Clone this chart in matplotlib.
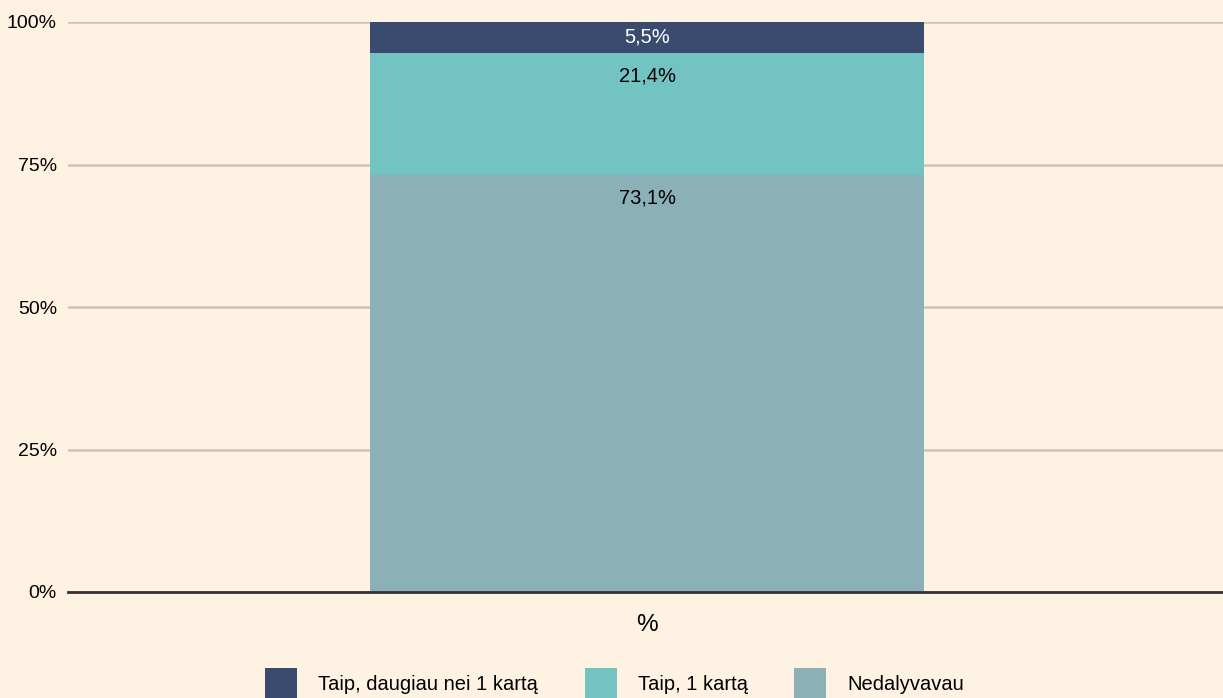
import matplotlib
matplotlib.use("Agg")
import matplotlib.pyplot as plt
from matplotlib.patches import Patch

plt.rcParams['font.family'] = ['Liberation Sans', 'DejaVu Sans']

categories = ['%']
series_names = ['Nedalyvavau', 'Taip, 1 kartą', 'Taip, daugiau nei 1 kartą']
series_values = [[73.1], [21.4], [5.5]]
series_colors = ['#8cb0b8', '#74c3c3', '#3b4b6f']
label_colors = ['black', 'black', 'white']
yticks = [0, 25, 50, 75, 100]
ytick_labels = ['0%', '25%', '50%', '75%', '100%']

bg = '#fef2e3'
fig = plt.figure(figsize=(12.23, 6.98), dpi=100, facecolor=bg)
ax = fig.add_axes([68/1223, 1-592/698, 1-68/1223, (592-22)/698])
ax.set_facecolor(bg)

x = list(range(len(categories)))
bottom = [0.0]*len(categories)
bars_all = []
for name, vals, col in zip(series_names, series_values, series_colors):
    bars = ax.bar(x, vals, width=0.48, bottom=bottom, color=col, label=name, zorder=3)
    bars_all.append(bars)
    bottom = [b+v for b, v in zip(bottom, vals)]

# labels
for i, (bars, vals, lc) in enumerate(zip(bars_all, series_values, label_colors)):
    for rect, v in zip(bars, vals):
        txt = f"{v:.1f}".replace('.', ',') + '%'
        cx = rect.get_x() + rect.get_width()/2
        top = rect.get_y() + rect.get_height()
        if i == len(bars_all)-1:
            ax.annotate(txt, (cx, rect.get_y() + rect.get_height()/2), xytext=(0, 0.5),
                        textcoords='offset points', ha='center', va='center',
                        color=lc, fontsize=14.5, zorder=4)
        else:
            ax.annotate(txt, (cx, top), xytext=(0, -16.5), textcoords='offset points',
                        ha='center', va='center', color=lc, fontsize=14.5, zorder=4)

ax.set_xlim(-0.5015, 0.4985)
ax.set_ylim(0, 100)
ax.set_yticks(yticks)
ax.set_yticklabels(ytick_labels, fontsize=14)
ax.set_xticks(x)
ax.set_xticklabels(categories, fontsize=17.5)
ax.tick_params(axis='y', length=0, pad=8)
ax.tick_params(axis='x', length=0, pad=16)
ax.grid(axis='y', color='#cfc4b4', linewidth=1.8, zorder=0)
for s in ['top', 'right', 'left']:
    ax.spines[s].set_visible(False)
ax.spines['bottom'].set_color('#333333')
ax.spines['bottom'].set_linewidth(2)
ax.spines['bottom'].set_zorder(5)

handles = [Patch(facecolor=series_colors[k], edgecolor='none') for k in [2, 1, 0]]
labels = [series_names[k] for k in [2, 1, 0]]
fig.legend(handles, labels, loc='center left', bbox_to_anchor=(265/1223, 1-684/698),
           ncol=3, frameon=False, fontsize=14.5, handlelength=1.6, handleheight=2.0,
           handletextpad=1.05, columnspacing=2.3, borderpad=0, borderaxespad=0)

fig.savefig('out.png', dpi=100, facecolor=bg)
